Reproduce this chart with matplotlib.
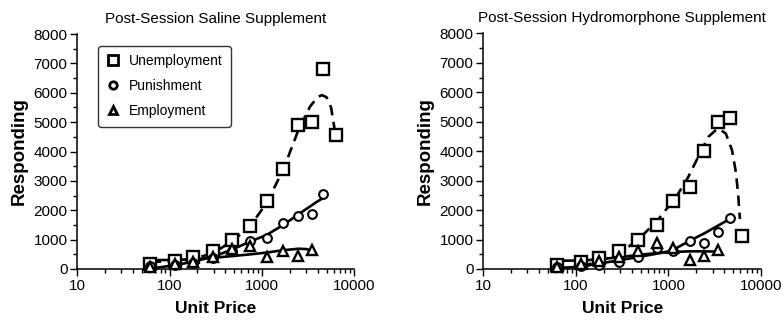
import matplotlib
matplotlib.use("Agg")
import matplotlib.pyplot as plt
from matplotlib.ticker import LogLocator, MultipleLocator, FixedLocator, NullFormatter

plt.rcParams['font.family'] = ['Liberation Sans', 'DejaVu Sans']

# ---------------- data ----------------
titles = ["Post-Session Saline Supplement", "Post-Session Hydromorphone Supplement"]
series_names = ["Unemployment", "Punishment", "Employment"]

unit_price = [62, 113, 180, 293, 473, 750, 1126, 1695, 2450, 3440, 4620, 6300]

# Saline panel
sal_unemp = [160, 270, 400, 620, 980, 1480, 2300, 3400, 4900, 5000, 6800, 4550]
sal_punish = [100, 150, 220, 380, 620, 970, 1040, 1550, 1790, 1880, 2570]
sal_employ = [60, 170, 230, 400, 690, 800, 400, 600, 450, 650]

# Hydromorphone panel
hyd_unemp = [150, 250, 380, 610, 980, 1500, 2300, 2800, 4020, 5000, 5120, 1130]
hyd_punish = [80, 110, 140, 250, 400, 700, 620, 950, 890, 1250, 1720]
hyd_employ = [60, 180, 280, 420, 620, 880, 700, 300, 430, 640]

# fitted curves, points
sal_unemp_fit_x = [62, 110, 180, 300, 470, 740, 1125, 1700, 2480, 3300, 4000, 4450, 5000, 5600, 6200]
sal_unemp_fit_y = [240, 260, 330, 560, 930, 1450, 2250, 3380, 4730, 5520, 5850, 5920, 5850, 5500, 4650]
sal_punish_fit_x = [75, 114, 180, 297, 490, 740, 1125, 1700, 2590, 3940, 4620]
sal_punish_fit_y = [50, 130, 250, 420, 680, 930, 1160, 1500, 1900, 2290, 2420]
sal_employ_fit_x = [62, 114, 180, 292, 477, 755, 1125, 1700, 2480, 3000, 3460]
sal_employ_fit_y = [300, 310, 330, 380, 440, 500, 560, 640, 690, 680, 630]

hyd_unemp_fit_x = [115, 190, 300, 470, 740, 930, 1190, 1640, 2100, 2700, 3200, 3500, 4170, 4860, 5380, 5690, 5920]
hyd_unemp_fit_y = [80, 300, 540, 1000, 1600, 2000, 2400, 3130, 3810, 4490, 4700, 4770, 4600, 4040, 3250, 2450, 1700]
hyd_punish_fit_x = [70, 115, 182, 300, 454, 720, 1080, 1700, 2470, 3460, 4620]
hyd_punish_fit_y = [40, 80, 190, 300, 400, 510, 620, 960, 1220, 1480, 1700]
hyd_employ_fit_x = [62, 113, 180, 293, 473, 750, 1127, 1700, 2450, 3460]
hyd_employ_fit_y = [280, 290, 330, 400, 480, 540, 580, 600, 600, 590]

y_ticks = [0, 1000, 2000, 3000, 4000, 5000, 6000, 7000, 8000]
x_ticks = [10, 100, 1000, 10000]

# ---------------- figure ----------------
W, H = 783, 326
fig = plt.figure(figsize=(W / 100, H / 100), dpi=100)

def px_axes(x0, x1, ytop, ybot):
    return fig.add_axes([x0 / W, 1 - ybot / H, (x1 - x0) / W, (ybot - ytop) / H])

ax1 = px_axes(77.3, 354.3, 34, 269)
ax2 = px_axes(483.3, 761, 33.5, 269)

panels = [
    (ax1, titles[0], sal_unemp, sal_punish, sal_employ,
     (sal_unemp_fit_x, sal_unemp_fit_y), (sal_punish_fit_x, sal_punish_fit_y), (sal_employ_fit_x, sal_employ_fit_y)),
    (ax2, titles[1], hyd_unemp, hyd_punish, hyd_employ,
     (hyd_unemp_fit_x, hyd_unemp_fit_y), (hyd_punish_fit_x, hyd_punish_fit_y), (hyd_employ_fit_x, hyd_employ_fit_y)),
]

for ax, title, un, pu, em, fu, fp, fe in panels:
    ax.plot(fu[0], fu[1], color='black', lw=1.9, ls=(0, (4, 2.5)), zorder=2)
    ax.plot(fp[0], fp[1], color='black', lw=1.9, zorder=2)
    ax.plot(fe[0], fe[1], color='black', lw=1.9, zorder=2)

    h1, = ax.plot(unit_price[:len(un)], un, ls='none', marker='s', ms=8.5, mfc='white',
                  mec='black', mew=1.7, clip_on=False, zorder=3, label=series_names[0])
    h2, = ax.plot(unit_price[:len(pu)], pu, ls='none', marker='o', ms=6.3, mfc='white',
                  mec='black', mew=1.5, clip_on=False, zorder=4, label=series_names[1])
    h3, = ax.plot(unit_price[:len(em)], em, ls='none', marker='^', ms=7.5, mfc='white',
                  mec='black', mew=1.7, clip_on=False, zorder=4, label=series_names[2])

    ax.set_xscale('log')
    ax.set_xlim(10, 10000)
    ax.set_ylim(0, 8000)
    ax.xaxis.set_major_locator(FixedLocator(x_ticks))
    ax.set_xticklabels([str(t) for t in x_ticks])
    ax.xaxis.set_minor_locator(LogLocator(base=10, subs=range(2, 10), numticks=20))
    ax.xaxis.set_minor_formatter(NullFormatter())
    ax.yaxis.set_major_locator(FixedLocator(y_ticks))
    ax.yaxis.set_minor_locator(MultipleLocator(500))
    ax.tick_params(which='major', direction='out', length=5, width=1, labelsize=11, pad=2, colors='black')
    ax.tick_params(which='minor', direction='out', length=3, width=1)
    for s in ['top', 'right']:
        ax.spines[s].set_visible(False)
    for s in ['left', 'bottom']:
        ax.spines[s].set_linewidth(1.1)
    ax.set_title(title, fontsize=11, pad=8)
    ax.set_xlabel("Unit Price", fontsize=12.5, fontweight='bold', labelpad=6)
    ax.set_ylabel("Responding", fontsize=13.5, fontweight='bold', labelpad=4)

leg = ax1.legend(handles=[h1, h2, h3], loc='upper left', bbox_to_anchor=(0.075, 0.95),
                 fontsize=10, frameon=True, fancybox=True, edgecolor='black',
                 handlelength=1.0, handletextpad=0.6, borderpad=0.6, labelspacing=0.8,
                 borderaxespad=0, markerscale=0.85)
leg.get_frame().set_linewidth(1.0)
for hnd in leg.legend_handles:
    hnd.set_markeredgewidth(2.0)

fig.savefig("out.png", dpi=100)
